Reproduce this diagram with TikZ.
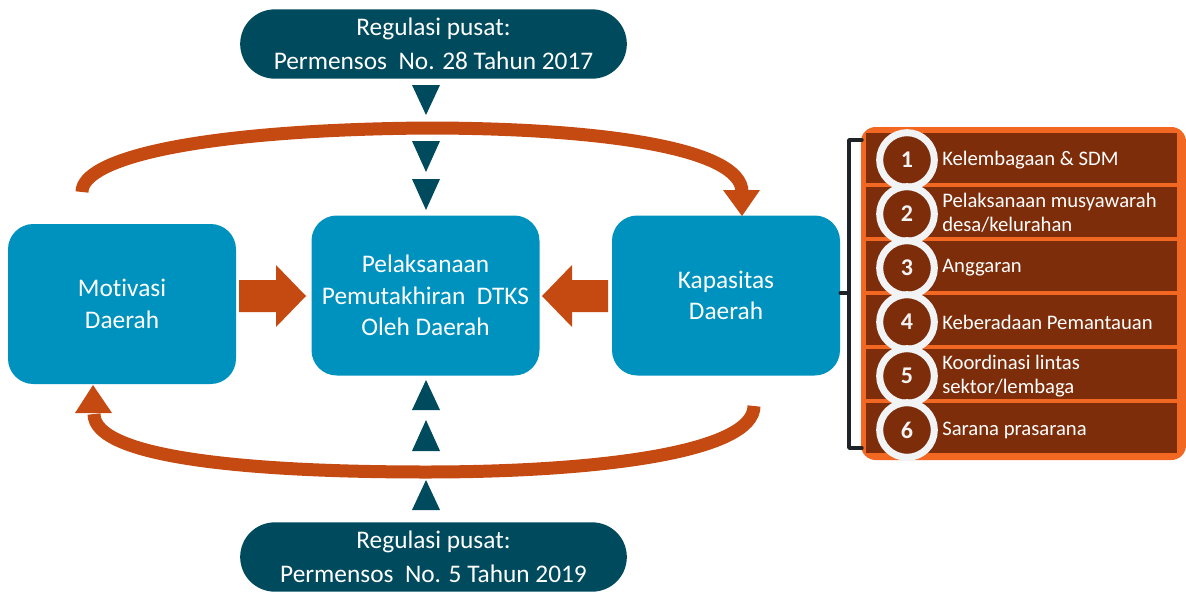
\documentclass[tikz,border=0pt]{standalone}
\usepackage{fontspec}
\setmainfont{Carlito}[Ligatures=NoCommon]
\definecolor{boxblue}{HTML}{0092BE}
\definecolor{darkteal}{HTML}{004A5E}
\definecolor{arroworange}{HTML}{C54A11}
\definecolor{panelorange}{HTML}{F26722}
\definecolor{rowbrown}{HTML}{7E2D0A}
\definecolor{ringgray}{HTML}{F2F3F4}
\definecolor{bracketcol}{HTML}{1E2328}
\begin{document}
\begin{tikzpicture}[x=0.75pt,y=-0.75pt,
  bluebox/.style={fill=boxblue, rounded corners=19pt, minimum width=171pt, minimum height=120pt,
    text=white, align=center, font=\fontsize{19}{23.5}\selectfont, inner sep=0pt},
  pill/.style={fill=darkteal, rounded corners=26pt, minimum width=290pt, minimum height=52pt,
    text=white, align=center, font=\fontsize{19}{25.5}\selectfont, inner sep=0pt},
  tri/.style={fill=darkteal},
  blockarrow/.style={fill=arroworange},
  arc/.style={draw=arroworange, line width=9.75pt},
  rowbox/.style={fill=rowbrown, minimum width=233pt, minimum height=37.5pt, inner sep=0pt},
  numcirc/.style={circle, draw=ringgray, line width=5.25pt, fill=rowbrown, minimum size=41pt,
    inner sep=0pt, text=ringgray, font=\fontsize{18}{18}\selectfont\bfseries},
  rowtext/.style={anchor=west, text=white, align=left, inner sep=0pt, font=\fontsize{15.5}{18}\selectfont},
  bracket/.style={draw=bracketcol, line width=2.6pt, line join=round, line cap=round}
]
\useasboundingbox (0,0) rectangle (1186,593);

% pills
\node[pill] (top) at (433.5,44) {Regulasi pusat:\\Permensos\ \ No. 28 Tahun 2017};
\node[pill] (bot) at (433.5,557) {Regulasi pusat:\\Permensos\ \ No. 5 Tahun 2019};

% boxes
\node[bluebox] (mot) at (122,304) {Motivasi\\Daerah};
\node[bluebox] (pel) at (425.5,295.5) {Pelaksanaan\\Pemutakhiran\ \ DTKS\\Oleh Daerah};
\node[bluebox] (kap) at (726,295.5) {Kapasitas\\Daerah};

% triangles top (down)
\fill[tri] (412,85) -- (440,85) -- (426,115) -- cycle;
\fill[tri] (412,141) -- (440,141) -- (426,172) -- cycle;
\fill[tri] (412,179) -- (440,179) -- (426,210) -- cycle;
% triangles bottom (up)
\fill[tri] (412,410) -- (440,410) -- (426,380) -- cycle;
\fill[tri] (412,451) -- (440,451) -- (426,420) -- cycle;
\fill[tri] (412,510) -- (440,510) -- (426,480) -- cycle;

% block arrows
\fill[blockarrow] (239,280) -- (276,280) -- (276,265) -- (306,296) -- (276,327) -- (276,312) -- (239,312) -- cycle;
\fill[blockarrow] (608,280) -- (572,280) -- (572,265) -- (542,296) -- (572,327) -- (572,312) -- (608,312) -- cycle;

% top arc
\coordinate (ta) at (82,192);
\coordinate (tb) at (742,192);
\draw[arc] (ta) .. controls (82,158) and (200,130) .. (426,128) .. controls (600,128) and (742,148) .. (tb);
\fill[arroworange] (723,190) -- (760,190) -- (742,216) -- cycle;

% bottom arc
\coordinate (ba) at (754,406);
\coordinate (bb) at (94,414);
\draw[arc] (ba) .. controls (754,452) and (600,472) .. (426,472) .. controls (250,472) and (94,458) .. (bb);
\fill[arroworange] (75,413) -- (112,413) -- (93,385) -- cycle;

% right panel
\fill[panelorange, rounded corners=11pt] (861,127) rectangle (1186,460);
\foreach \i in {0,...,5} {
  \node[rowbox] (r\i) at (1021.5,{158+54*\i}) {};
}
\foreach \i/\n in {0/1,1/2,2/3,3/4,4/5,5/6} {
  \node[numcirc] (c\i) at (907,{160+54*\i}) {\n};
}
\node[rowtext] (t0) at (942,160) {Kelembagaan \& SDM};
\node[rowtext] (t1) at (942,213) {Pelaksanaan musyawarah\\desa/kelurahan};
\node[rowtext] (t2) at (942,268) {Anggaran};
\node[rowtext] (t3) at (942,322) {Keberadaan Pemantauan};
\node[rowtext] (t4) at (942,376) {Koordinasi lintas\\sektor/lembaga};
\node[rowtext] (t5) at (942,430) {Sarana prasarana};

% bracket
\coordinate (bt) at (862,140);
\coordinate (bm) at (849,293);
\coordinate (bbot) at (862,448);
\draw[bracket] (bt) -- (849,140) -- (849,448) -- (bbot);
\draw[bracket] (kap.east |- bm) -- (bm);
\end{tikzpicture}
\end{document}
